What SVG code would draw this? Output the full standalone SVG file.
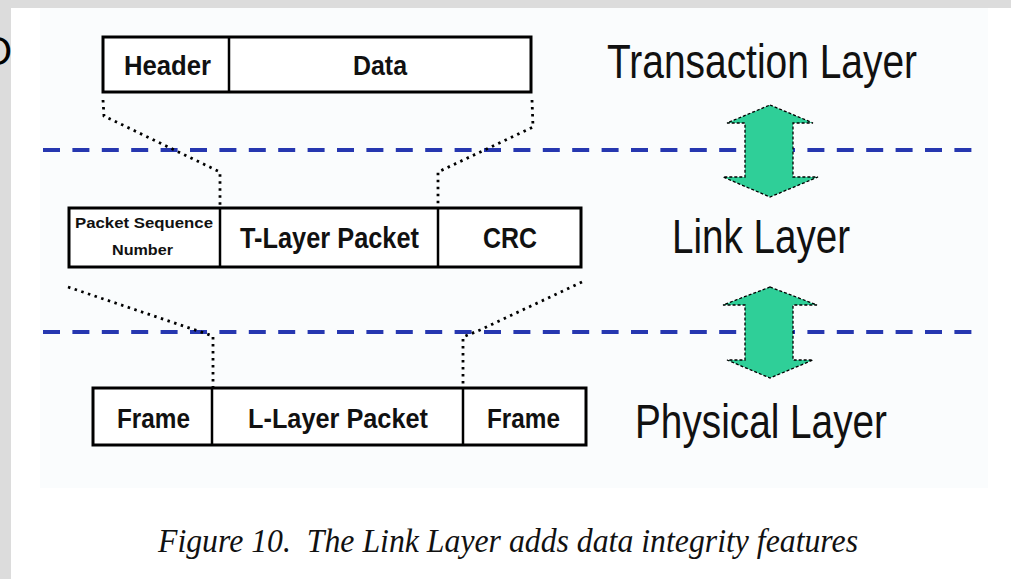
<svg xmlns="http://www.w3.org/2000/svg" width="1011" height="579" viewBox="0 0 1011 579">
<defs>
<style>
.box{fill:#fff;stroke:#000;stroke-width:3}
.div{stroke:#000;stroke-width:2.5}
.lbl{font-family:"Liberation Sans",Arial,sans-serif;font-weight:bold;fill:#111}
.big{font-family:"Liberation Sans",Arial,sans-serif;fill:#111;font-size:48px}
.cap{font-family:"Liberation Serif","Times New Roman",serif;font-style:italic;fill:#111;font-size:34px;white-space:pre}
.dash{stroke:#2637b0;stroke-width:4;stroke-dasharray:17 12.4;fill:none}
.dot{stroke:#000;stroke-width:2.8;stroke-dasharray:2.5 4.5;fill:none}
.arrow{fill:#2fcf98;stroke:#000;stroke-width:1.3;stroke-dasharray:3 2}
</style>
</defs>
<g id="background">
<rect x="0" y="0" width="1011" height="579" fill="#dcdcdc"/>
<text x="-19" y="65" font-family="Liberation Sans,Arial,sans-serif" font-size="40" fill="#000">O</text>
<rect x="11" y="8" width="1000" height="571" fill="#ffffff"/>
<rect x="40" y="8" width="948" height="480" fill="#fafcfd"/>
</g>
<g id="layer-boundaries">
<line class="dash" x1="43" y1="150" x2="972" y2="150"/>
<line class="dash" x1="43" y1="332" x2="972" y2="332"/>
</g>
<g id="connectors">
<path class="dot" d="M103,100 L104,116 L220,172 L220,208"/>
<path class="dot" d="M532,100 L533,127 L438,172 L438,208"/>
<path class="dot" d="M68,287 L213,336 L213,388"/>
<path class="dot" d="M582,282 L480,330 L463,337 L463,388"/>
</g>
<g id="transaction-packet">
<rect class="box" x="103" y="37" width="428" height="55" stroke-width="2.5"/>
<line class="div" x1="229" y1="37" x2="229" y2="92"/>
<text class="lbl" x="124" y="75" font-size="27" textLength="87" lengthAdjust="spacingAndGlyphs">Header</text>
<text class="lbl" x="353" y="75" font-size="27" textLength="54" lengthAdjust="spacingAndGlyphs">Data</text>
</g>
<g id="link-packet">
<rect class="box" x="69" y="208" width="512" height="59"/>
<line class="div" x1="220" y1="208" x2="220" y2="267"/>
<line class="div" x1="438" y1="208" x2="438" y2="267"/>
<text class="lbl" x="75" y="228" font-size="14" textLength="138" lengthAdjust="spacingAndGlyphs">Packet Sequence</text>
<text class="lbl" x="112" y="255" font-size="14" textLength="61" lengthAdjust="spacingAndGlyphs">Number</text>
<text class="lbl" x="240" y="248" font-size="29" textLength="179" lengthAdjust="spacingAndGlyphs">T-Layer Packet</text>
<text class="lbl" x="483" y="248" font-size="29" textLength="54" lengthAdjust="spacingAndGlyphs">CRC</text>
</g>
<g id="physical-packet">
<rect class="box" x="93" y="388" width="493" height="57"/>
<line class="div" x1="212" y1="388" x2="212" y2="445"/>
<line class="div" x1="463" y1="388" x2="463" y2="445"/>
<text class="lbl" x="117" y="428" font-size="27" textLength="73" lengthAdjust="spacingAndGlyphs">Frame</text>
<text class="lbl" x="248" y="428" font-size="27" textLength="180" lengthAdjust="spacingAndGlyphs">L-Layer Packet</text>
<text class="lbl" x="487" y="428" font-size="27" textLength="73" lengthAdjust="spacingAndGlyphs">Frame</text>
</g>
<g id="arrow-transaction-link">
<path class="arrow" d="M770,105 L813,123 L793,123 L793,177 L818,177 L770,197 L723,177 L745,177 L745,123 L727,123 Z"/>
</g>
<g id="arrow-link-physical">
<path class="arrow" d="M770,287 L817,305 L793,305 L793,360 L813,360 L770,378 L727,360 L745,360 L745,305 L723,305 Z"/>
</g>
<g id="layer-labels">
<text class="big" x="607" y="78" textLength="310" lengthAdjust="spacingAndGlyphs">Transaction Layer</text>
<text class="big" x="672" y="253" textLength="178" lengthAdjust="spacingAndGlyphs">Link Layer</text>
<text class="big" x="635" y="438" textLength="252" lengthAdjust="spacingAndGlyphs">Physical Layer</text>
</g>
<g id="caption">
<text class="cap" x="158" y="552" textLength="700" lengthAdjust="spacingAndGlyphs" xml:space="preserve">Figure 10.  The Link Layer adds data integrity features</text>
</g>
</svg>
